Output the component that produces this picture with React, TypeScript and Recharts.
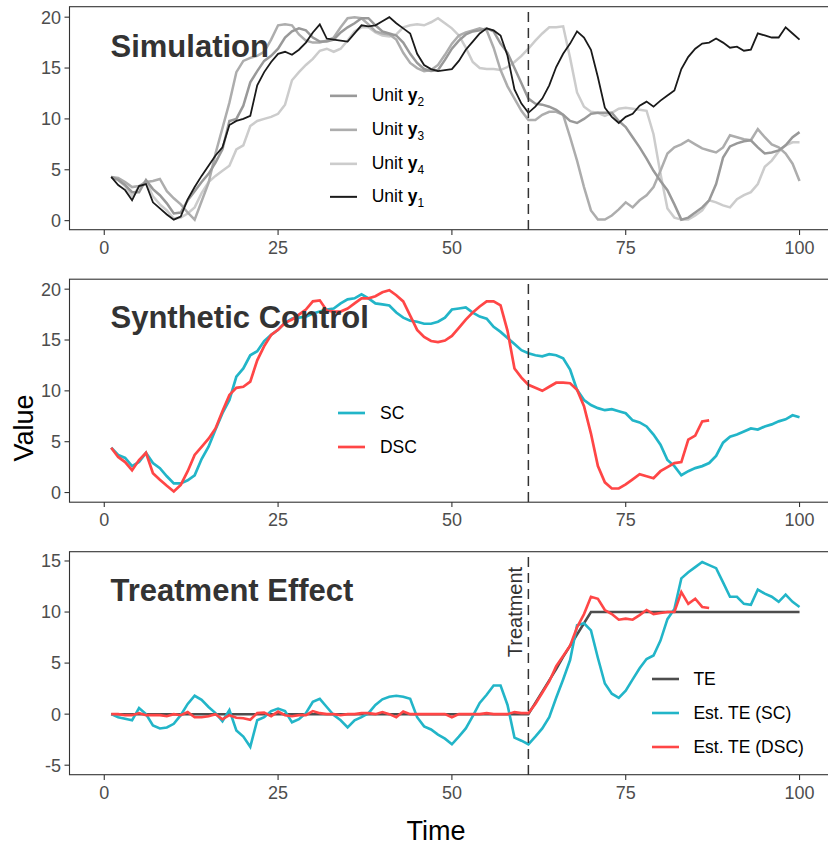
import React from "react";
import {
  LineChart,
  Line,
  XAxis,
  YAxis,
  CartesianGrid,
  ReferenceLine,
  ReferenceDot,
} from "recharts";

// ---- data (t = 1..100) ----
const Y1 = [
  4.3, 3.5, 3.0, 2.0, 3.4, 3.6, 1.8, 1.2, 0.6, 0.1,
  0.4, 2.1, 3.3, 4.4, 5.4, 6.4, 7.2, 9.4, 9.8, 10.0,
  10.3, 13.3, 14.6, 15.6, 16.4, 16.6, 16.3, 16.8, 17.5, 18.5,
  19.3, 17.9, 17.8, 17.7, 17.6, 18.4, 19.2, 19.1, 19.2, 19.6,
  20.0, 19.4, 18.9, 18.4, 16.4, 15.3, 14.9, 14.7, 14.8, 14.9,
  15.7, 16.8, 17.6, 18.4, 18.9, 18.7, 18.2, 16.2, 12.9, 11.5,
  10.6, 11.2, 12.0, 13.3, 15.1, 16.4, 17.4, 18.6, 18.0, 16.8,
  14.1, 11.1, 10.2, 9.6, 10.2, 10.5, 11.3, 11.7, 11.2, 11.8,
  12.3, 12.8, 14.9, 16.1, 16.9, 17.4, 17.5, 17.9, 17.5, 17.0,
  17.1, 16.7, 16.8, 18.4, 18.2, 18.0, 18.0, 19.0, 18.4, 17.8,
];
const Y2 = [
  4.3, 4.0, 3.5, 2.8, 2.8, 4.0, 3.1, 2.5, 1.7, 0.7,
  0.8, 2.0, 2.9, 3.8, 4.6, 5.7, 7.0, 9.8, 10.0, 11.3,
  13.6, 14.7, 15.7, 16.2, 16.9, 18.0, 18.6, 18.9, 18.7, 18.0,
  17.6, 17.6, 17.8, 18.5, 19.0, 19.4, 19.9, 19.9, 19.2, 18.6,
  18.4, 18.2, 17.5, 16.4, 15.5, 14.9, 14.7, 14.8, 15.8, 16.9,
  17.7, 18.3, 18.6, 18.7, 18.9, 18.6, 17.4, 16.5, 15.0, 13.5,
  12.0, 11.5, 11.4, 11.2, 10.9, 10.4, 9.8, 9.6, 10.0, 10.5,
  10.6, 10.6, 10.6, 9.8, 9.2, 8.2, 7.2, 6.1, 4.9, 3.9,
  3.0, 1.6, 0.1, 0.3, 0.8, 1.3, 2.0, 3.6, 6.2, 7.3,
  7.6, 7.8, 7.9, 7.2, 6.6, 6.7, 6.9, 7.4, 8.2, 8.7,
];
const Y3 = [
  4.3, 4.2, 3.8, 3.3, 3.4, 3.8, 3.9, 4.1, 2.9, 2.2,
  1.6, 0.8, 0.1, 1.9, 3.7, 6.6, 9.1, 11.6, 14.6, 15.7,
  16.0, 16.2, 16.6, 17.8, 19.2, 19.3, 19.2, 18.3, 17.7, 17.5,
  17.5, 17.7, 18.0, 19.0, 19.9, 20.0, 19.9, 19.3, 18.6, 18.4,
  18.3, 17.8, 16.5, 15.5, 15.0, 14.7, 14.8, 15.3, 16.3, 17.4,
  18.2, 18.5, 18.7, 18.9, 18.7, 17.0, 14.8, 13.2, 12.0, 10.8,
  9.9, 9.9, 10.4, 10.7, 10.7, 10.4, 8.2, 5.9, 3.3, 1.0,
  0.1, 0.1, 0.5, 1.1, 1.8, 1.3, 2.0, 2.5, 3.3, 4.9,
  6.6, 7.2, 7.5, 7.9, 7.5, 7.1, 6.9, 6.7, 7.2, 8.4,
  8.2, 8.0, 7.9, 9.0, 8.2, 7.5, 7.2, 6.6, 5.6, 3.9,
];
const Y4 = [
  4.3, 4.0, 3.4, 2.4, 3.3, 3.9, 2.4, 1.6, 1.0, 0.2,
  0.3, 0.7, 1.3, 2.7, 3.8, 4.4, 4.9, 5.4, 7.0, 7.4,
  9.3, 9.8, 10.0, 10.2, 10.5, 11.4, 13.8, 14.6, 15.3, 15.9,
  16.7, 16.9, 16.6, 16.9, 17.7, 18.6, 19.0, 19.0, 18.5, 18.2,
  18.1, 18.3, 19.0, 19.2, 19.3, 19.2, 19.5, 19.9, 19.4, 18.9,
  18.2, 17.0, 15.6, 15.0, 14.9, 14.9, 14.8, 15.1, 15.6, 16.2,
  16.9, 17.7, 18.4, 19.0, 19.0, 19.1, 16.0, 12.6, 11.2, 10.7,
  10.6, 10.3, 10.6, 11.0, 11.1, 11.0, 10.9, 10.8, 8.5, 4.6,
  1.2, 0.3, 0.1, 0.1, 0.5, 1.0, 2.0, 1.8, 1.5, 1.3,
  2.1, 2.5, 2.8, 3.6, 5.3, 5.9, 6.8, 7.4, 7.7, 7.7,
];
const SC = [
  4.4, 3.7, 3.4, 2.6, 3.0, 3.9, 2.9, 2.4, 1.6, 0.9,
  0.9, 1.2, 1.7, 3.3, 4.5, 6.2, 7.8, 9.1, 11.4, 12.2,
  13.5, 13.9, 14.9, 15.5, 16.0, 16.7, 17.1, 17.2, 17.3, 17.6,
  17.8, 18.0, 18.1, 18.6, 19.0, 19.1, 19.5, 19.1, 18.6, 18.5,
  18.4, 17.7, 17.2, 16.9, 16.8, 16.6, 16.6, 16.8, 17.2, 18.0,
  18.1, 18.2, 17.7, 17.3, 17.1, 16.3, 15.8, 15.2, 14.6, 14.0,
  13.7, 13.5, 13.4, 13.6, 13.5, 13.2, 12.1, 10.1, 9.1, 8.6,
  8.3, 8.1, 8.2, 8.0, 7.8, 7.1, 6.9, 6.5, 5.7, 4.7,
  3.2, 2.6, 1.7, 2.1, 2.4, 2.6, 2.9, 3.6, 4.9, 5.5,
  5.7, 6.0, 6.3, 6.2, 6.5, 6.7, 7.0, 7.2, 7.6, 7.4,
];
// DSC stops at t = 87
const DSC = [
  4.4, 3.5, 3.0, 2.2, 3.2, 3.9, 1.9, 1.25, 0.66, 0.1,
  0.75, 2.1, 3.7, 4.5, 5.3, 6.3, 8.0, 9.6, 10.3, 10.4,
  10.9, 13.0, 14.4, 15.5, 16.0, 16.7, 17.0, 17.5, 18.0, 18.8,
  18.9, 17.9, 17.8, 17.8, 18.1, 18.6, 19.1, 19.1, 19.3, 19.7,
  19.9, 19.4, 18.8, 17.4, 16.0, 15.3, 14.9, 14.8, 14.95, 15.4,
  16.2, 17.0, 17.7, 18.3, 18.8, 18.8, 18.4, 15.9, 12.2, 11.3,
  10.6, 10.3, 10.0, 10.4, 10.8, 10.8, 10.75, 10.1, 8.5, 5.8,
  2.6, 1.0, 0.4, 0.4, 0.8, 1.3, 1.8, 1.6, 1.4, 2.1,
  2.5, 2.9, 3.0, 5.2, 5.6, 7.0, 7.1,
];
const TE = [
  0, 0, 0, 0, 0, 0, 0, 0, 0, 0,
  0, 0, 0, 0, 0, 0, 0, 0, 0, 0,
  0, 0, 0, 0, 0, 0, 0, 0, 0, 0,
  0, 0, 0, 0, 0, 0, 0, 0, 0, 0,
  0, 0, 0, 0, 0, 0, 0, 0, 0, 0,
  0, 0, 0, 0, 0, 0, 0, 0, 0, 0,
  0, 1.1, 2.2, 3.3, 4.4, 5.6, 6.7, 7.8, 8.9, 10,
  10, 10, 10, 10, 10, 10, 10, 10, 10, 10,
  10, 10, 10, 10, 10, 10, 10, 10, 10, 10,
  10, 10, 10, 10, 10, 10, 10, 10, 10, 10,
];
const EST_SC = [
  0.0, -0.3, -0.45, -0.6, 0.6, 0.0, -1.1, -1.4, -1.3, -0.95,
  -0.1, 1.0, 1.8, 1.4, 0.7, 0.1, -0.7, 0.4, -1.6, -2.2,
  -3.2, -0.6, -0.3, 0.3, 0.55, 0.3, -0.8, -0.5, 0.1, 1.2,
  1.5, 0.7, -0.1, -0.6, -1.3, -0.6, -0.3, 0.1, 0.9, 1.45,
  1.7, 1.8, 1.7, 1.5, -0.3, -1.2, -1.5, -2.0, -2.4, -2.95,
  -2.2, -1.4, -0.2, 1.1, 1.9, 2.8, 2.8, 0.9, -2.3, -2.6,
  -2.95, -2.2, -1.4, -0.3, 1.6, 3.4, 5.3, 8.7, 8.9, 8.2,
  5.5, 3.0, 2.0, 1.6, 2.3, 3.4, 4.5, 5.4, 5.75, 7.2,
  9.3, 10.3, 13.3, 13.9, 14.4, 14.9, 14.6, 14.3, 12.9, 11.5,
  11.5, 10.8, 10.7, 12.2, 11.8, 11.5, 11.0, 11.7, 11.0, 10.5,
];
const EST_DSC = [
  0.0, 0.0, -0.1, -0.1, 0.1, -0.1, -0.1, -0.1, -0.2, 0.0,
  -0.1, 0.2, -0.3, -0.3, -0.2, 0.0, -0.5, -0.1, -0.35, -0.4,
  -0.55, 0.1, 0.15, -0.2, 0.25, -0.1, -0.2, -0.1, -0.1, 0.3,
  0.1, 0.0, 0.0, -0.1, 0.0, 0.0, 0.1, 0.1, 0.0, 0.2,
  0.0, -0.3, 0.25, 0.0, 0.0, 0.0, 0.0, 0.0, 0.0, -0.3,
  0.0, 0.0, 0.0, 0.0, 0.1, 0.0, 0.0, 0.0, 0.2, 0.1,
  0.1, 1.0, 2.1, 3.2, 4.7, 5.7, 6.7, 8.5, 9.8, 11.5,
  11.3, 10.2, 9.8, 9.25, 9.35, 9.25, 9.7, 10.2, 9.8, 9.9,
  10.0, 10.0, 11.96, 10.8, 11.3, 10.5, 10.4,
];

const TREAT_T = 61;
const X_TICKS = [0, 25, 50, 75, 100];
const X_MINOR = [12.5, 37.5, 62.5, 87.5];
const Y_TICKS_TOP = [0, 5, 10, 15, 20];
const Y_MINOR_TOP = [2.5, 7.5, 12.5, 17.5];
const Y_TICKS_TE = [-5, 0, 5, 10, 15];
const Y_MINOR_TE = [-2.5, 2.5, 7.5, 12.5];

const DATA = Y1.map((v, i) => ({
  t: i + 1,
  y1: v,
  y2: Y2[i],
  y3: Y3[i],
  y4: Y4[i],
  sc: SC[i],
  dsc: i < DSC.length ? DSC[i] : null,
  te: TE[i],
  estSc: EST_SC[i],
  estDsc: i < EST_DSC.length ? EST_DSC[i] : null,
}));

// ---- layout ----
const FONT = '"Liberation Sans", Arial, Helvetica, sans-serif';
const PLOT_LEFT = 69.5;
const PLOT_W = 764.8;
const PLOT_H = 223;
const M_TOP = 12;
const X_AX_H = 30;
const CHART_W = PLOT_LEFT + PLOT_W;
const CHART_H = M_TOP + PLOT_H + X_AX_H;
const TOPS = [6.7, 279.2, 551.7];

const TEAL = "#22B5C8";
const RED = "#FF4646";

const hGen = (vals: number[]) => (p: any) => {
  const s = p?.yAxis?.scale;
  return typeof s === "function" ? vals.map((v) => s(v)) : [];
};
const vGen = (vals: number[]) => (p: any) => {
  const s = p?.xAxis?.scale;
  return typeof s === "function" ? vals.map((v) => s(v)) : [];
};

function TreatmentLabel(props: any) {
  const { cx, cy } = props;
  if (cx == null || cy == null) return null;
  const x = cx - 6;
  return (
    <text
      x={x}
      y={cy}
      transform={`rotate(-90, ${x}, ${cy})`}
      textAnchor="middle"
      fontSize={20}
      fill="#333333"
      fontFamily={FONT}
    >
      Treatment
    </text>
  );
}

function Panel({
  top,
  domain,
  ticks,
  minor,
  children,
}: {
  top: number;
  domain: [number, number];
  ticks: number[];
  minor: number[];
  children: React.ReactNode;
}) {
  return (
    <div style={{ position: "absolute", left: 0, top: top - M_TOP }}>
      <LineChart
        width={CHART_W}
        height={CHART_H}
        data={DATA}
        margin={{ top: M_TOP, right: 0, bottom: 0, left: 0 }}
      >
        <CartesianGrid
          stroke="#EBEBEB"
          strokeWidth={0.6}
          horizontalCoordinatesGenerator={hGen(minor)}
          verticalCoordinatesGenerator={vGen(X_MINOR)}
        />
        <CartesianGrid
          stroke="#EBEBEB"
          strokeWidth={1.1}
          horizontalCoordinatesGenerator={hGen(ticks)}
          verticalCoordinatesGenerator={vGen(X_TICKS)}
        />
        <XAxis
          dataKey="t"
          type="number"
          domain={[-5, 105]}
          ticks={X_TICKS}
          interval={0}
          allowDataOverflow
          height={X_AX_H}
          axisLine={false}
          tickSize={5}
          tickMargin={6}
          tickLine={{ stroke: "#333333", strokeWidth: 1.1 }}
          tick={{ fill: "#4D4D4D", fontSize: 18, fontFamily: FONT }}
        />
        <YAxis
          type="number"
          domain={domain}
          ticks={ticks}
          interval={0}
          allowDataOverflow
          width={PLOT_LEFT}
          axisLine={false}
          tickSize={5}
          tickMargin={3.5}
          tickLine={{ stroke: "#333333", strokeWidth: 1.1 }}
          tick={{ fill: "#4D4D4D", fontSize: 18, fontFamily: FONT }}
        />
        {children}
        <ReferenceLine
          x={TREAT_T}
          stroke="#333333"
          strokeWidth={1.5}
          strokeDasharray="10 6"
        />
      </LineChart>
    </div>
  );
}

type Item = { label: React.ReactNode; color: string; width: number };

function PanelLegend({
  left,
  top,
  rowH,
  padTop = 5,
  items,
}: {
  left: number;
  top: number;
  rowH: number;
  padTop?: number;
  items: Item[];
}) {
  return (
    <div
      style={{
        position: "absolute",
        left,
        top,
        background: "#ffffff",
        padding: `${padTop}px 5px 5px 4.5px`,
        fontFamily: FONT,
        fontSize: 17.5,
        color: "#000000",
      }}
    >
      {items.map((it, i) => (
        <div key={i} style={{ height: rowH, display: "flex", alignItems: "center" }}>
          <svg width={27} height={rowH} style={{ flex: "none", display: "block" }}>
            <line x1={0} x2={27} y1={rowH / 2} y2={rowH / 2} stroke={it.color} strokeWidth={it.width} />
          </svg>
          <span style={{ marginLeft: 14.7, whiteSpace: "nowrap", lineHeight: 1 }}>{it.label}</span>
        </div>
      ))}
    </div>
  );
}

const unit = (n: string) => (
  <>
    Unit <b>y</b>
    <sub style={{ fontSize: "0.68em", lineHeight: 0 }}>{n}</sub>
  </>
);

export default function App() {
  return (
    <div
      style={{
        position: "fixed",
        left: 0,
        top: 0,
        width: 828,
        height: 846,
        overflow: "hidden",
        background: "#ffffff",
        fontFamily: FONT,
      }}
    >
      <Panel top={TOPS[0]} domain={[-0.92, 21]} ticks={Y_TICKS_TOP} minor={Y_MINOR_TOP}>
        <Line dataKey="y4" stroke="#CCCCCC" strokeWidth={2.5} dot={false} isAnimationActive={false} />
        <Line dataKey="y3" stroke="#ADADAD" strokeWidth={2.5} dot={false} isAnimationActive={false} />
        <Line dataKey="y2" stroke="#999999" strokeWidth={2.5} dot={false} isAnimationActive={false} />
        <Line dataKey="y1" stroke="#1A1A1A" strokeWidth={1.8} dot={false} isAnimationActive={false} />
      </Panel>
      <Panel top={TOPS[1]} domain={[-0.93, 21]} ticks={Y_TICKS_TOP} minor={Y_MINOR_TOP}>
        <Line dataKey="sc" stroke={TEAL} strokeWidth={2.7} dot={false} isAnimationActive={false} />
        <Line dataKey="dsc" stroke={RED} strokeWidth={2.7} dot={false} isAnimationActive={false} />
      </Panel>
      <Panel top={TOPS[2]} domain={[-5.96, 15.88]} ticks={Y_TICKS_TE} minor={Y_MINOR_TE}>
        <Line dataKey="te" stroke="#4D4D4D" strokeWidth={2.5} dot={false} isAnimationActive={false} />
        <Line dataKey="estSc" stroke={TEAL} strokeWidth={2.6} dot={false} isAnimationActive={false} />
        <Line dataKey="estDsc" stroke={RED} strokeWidth={2.6} dot={false} isAnimationActive={false} />
        <ReferenceDot x={TREAT_T} y={10} r={0} shape={TreatmentLabel} />
      </Panel>

      <PanelLegend
        left={325.5}
        top={74.2}
        rowH={33.7}
        items={[
          { label: unit("2"), color: "#999999", width: 2.6 },
          { label: unit("3"), color: "#ADADAD", width: 2.6 },
          { label: unit("4"), color: "#CCCCCC", width: 2.6 },
          { label: unit("1"), color: "#1A1A1A", width: 2 },
        ]}
      />
      <PanelLegend
        left={333.8}
        top={391.3}
        rowH={34}
        items={[
          { label: "SC", color: TEAL, width: 2.7 },
          { label: "DSC", color: RED, width: 2.7 },
        ]}
      />
      <PanelLegend
        left={647.2}
        top={661}
        rowH={34}
        padTop={1.3}
        items={[
          { label: "TE", color: "#4D4D4D", width: 2.6 },
          { label: "Est. TE (SC)", color: TEAL, width: 2.6 },
          { label: "Est. TE (DSC)", color: RED, width: 2.6 },
        ]}
      />

      <svg
        width={828}
        height={846}
        style={{ position: "absolute", left: 0, top: 0, pointerEvents: "none" }}
      >
        {TOPS.map((t) => (
          <rect key={t} x={PLOT_LEFT} y={t} width={PLOT_W} height={PLOT_H} fill="none" stroke="#333333" strokeWidth={1.1} />
        ))}
        <g fontFamily={FONT} fontWeight={700} fontSize={31} fill="#333333">
          <text x={110.5} y={56.7}>Simulation</text>
          <text x={110.5} y={328.3}>Synthetic Control</text>
          <text x={110.5} y={601}>Treatment Effect</text>
        </g>
        <text
          x={33}
          y={428}
          transform="rotate(-90, 33, 428)"
          textAnchor="middle"
          fontFamily={FONT}
          fontSize={27}
          fill="#000000"
        >
          Value
        </text>
        <text x={436} y={840} textAnchor="middle" fontFamily={FONT} fontSize={27} fill="#000000">
          Time
        </text>
      </svg>
    </div>
  );
}
